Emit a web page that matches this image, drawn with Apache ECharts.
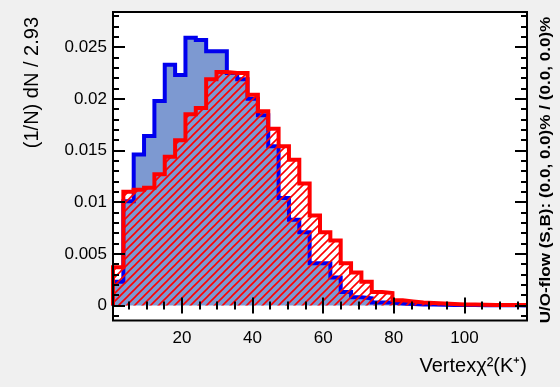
<!DOCTYPE html>
<html><head><meta charset="utf-8">
<script src="https://cdn.jsdelivr.net/npm/echarts@6/dist/echarts.min.js"></script>
<style>html,body{margin:0;padding:0;background:#f0f0f0}#c{width:560px;height:387px}</style>
</head><body><div id="c"></div>
<script>
// ---- data ----
const xMin = 0.5;
const binWidth = 2.93;
const signal = [0.0023, 0.0101, 0.0146, 0.0164, 0.0198, 0.0233, 0.0223, 0.0259, 0.0257, 0.0246,
  0.0246, 0.0225, 0.0219, 0.0200, 0.0184, 0.0154, 0.0104, 0.0083, 0.0071, 0.0041,
  0.0041, 0.0027, 0.0013, 0.0008, 0.0007, 0.0003, 0.0003, 0.0002, 0.00015, 0.0001,
  0.0001, 0.00008, 0.00006, 0.00005, 0.00004, 0.00003, 0.00003, 0.00002, 0.00002, 0.00001];
const background = [0.0037, 0.0110, 0.0112, 0.0114, 0.0127, 0.0144, 0.0160, 0.0185, 0.0191, 0.0219,
  0.0226, 0.0225, 0.0225, 0.0204, 0.0188, 0.0171, 0.0154, 0.0141, 0.0118, 0.0087,
  0.0071, 0.0063, 0.0041, 0.0032, 0.0023, 0.0013, 0.0012, 0.0005, 0.0004, 0.0003,
  0.00025, 0.0002, 0.00015, 0.0001, 0.0001, 0.00008, 0.00006, 0.00005, 0.00004, 0.00004];
const xMajorTicks = [20, 40, 60, 80, 100];
const xMinorTicks = [5, 10, 15, 25, 30, 35, 45, 50, 55, 65, 70, 75, 85, 90, 95, 105, 110, 115];
const yMajorTicks = [0, 0.005, 0.01, 0.015, 0.02, 0.025];
const yTickLabels = ['0', '0.005', '0.01', '0.015', '0.02', '0.025'];
const yMinorTicks = [-0.001, 0.001, 0.002, 0.003, 0.004, 0.006, 0.007, 0.008, 0.009, 0.011, 0.012, 0.013, 0.014,
  0.016, 0.017, 0.018, 0.019, 0.021, 0.022, 0.023, 0.024, 0.026, 0.027, 0.028];
const yMin = -0.00145, yMax = 0.0284;
const xTitle = 'Vertexχ²(K⁺)';
const yTitle = '(1/N) dN / 2.93';
const sideText = 'U/O-flow (S,B): (0.0, 0.0)% / (0.0, 0.0)%';

// ---- build ----
const xMax = xMin + signal.length * binWidth;
function steps(vals) {
  const pts = [[xMin, 0]];
  vals.forEach((v, i) => {
    const a = xMin + i * binWidth;
    pts.push([a, v], [a + binWidth, v]);
  });
  pts.push([xMin + vals.length * binWidth, 0]);
  return pts;
}
const hatch = document.createElement('canvas');
hatch.width = 8; hatch.height = 8;
const hc = hatch.getContext('2d');
hc.strokeStyle = '#ff0000'; hc.lineWidth = 1.6;
hc.beginPath();
hc.moveTo(0, 8); hc.lineTo(8, 0);
hc.moveTo(-1, 1); hc.lineTo(1, -1);
hc.moveTo(7, 9); hc.lineTo(9, 7);
hc.stroke();

const G = {left: 113, top: 12, right: 33, bottom: 66.5};
const FONT = 'Liberation Sans, Arial, sans-serif';

function xAx(pos, vals, len, labels) {
  return {
    type: 'value', min: xMin, max: xMax, position: pos, z: 10,
    axisLine: {show: false}, splitLine: {show: false},
    axisTick: {show: true, inside: true, length: len, customValues: vals, lineStyle: {color: '#000', width: 2}},
    axisLabel: labels ? {customValues: vals, color: '#000', fontSize: 17, fontFamily: FONT, margin: 9} : {show: false}
  };
}
function yAx(pos, vals, len, labels) {
  return {
    type: 'value', min: yMin, max: yMax, position: pos, z: 10,
    axisLine: {show: false}, splitLine: {show: false},
    axisTick: {show: true, inside: true, length: len, customValues: vals, lineStyle: {color: '#000', width: 2}},
    axisLabel: labels ? {
      customValues: vals, color: '#000', fontSize: 17, fontFamily: FONT, margin: 6,
      formatter: v => {
        let best = 0;
        yMajorTicks.forEach((t, i) => { if (Math.abs(t - v) < Math.abs(yMajorTicks[best] - v)) best = i; });
        return yTickLabels[best];
      }
    } : {show: false}
  };
}

const chart = echarts.init(document.getElementById('c'), null, {renderer: 'canvas'});
chart.setOption({
  animation: false,
  backgroundColor: '#f0f0f0',
  grid: Object.assign({show: true, backgroundColor: '#ffffff', borderWidth: 0}, G),
  xAxis: [
    xAx('bottom', xMajorTicks, 8, true),
    xAx('bottom', xMinorTicks, 4, false),
    xAx('top', xMajorTicks, 8, false),
    xAx('top', xMinorTicks, 4, false)
  ],
  yAxis: [
    yAx('left', yMajorTicks, 12, true),
    yAx('left', yMinorTicks, 6, false),
    yAx('right', yMajorTicks, 12, false),
    yAx('right', yMinorTicks, 6, false)
  ],
  series: [
    {type: 'line', xAxisIndex: 0, yAxisIndex: 0, data: steps(signal), symbol: 'none', z: 2,
     lineStyle: {color: '#0000ee', width: 4, join: 'miter'}, areaStyle: {color: '#7d99d1', opacity: 1}},
    {type: 'line', xAxisIndex: 0, yAxisIndex: 0, data: steps(background), symbol: 'none', z: 3,
     lineStyle: {color: '#ff0000', width: 4, join: 'miter'}, areaStyle: {color: {image: hatch, repeat: 'repeat'}, opacity: 1}}
  ],
  graphic: [
    {type: 'rect', z: 100, shape: {x: 113, y: 12, width: 414, height: 308.5},
     style: {fill: 'none', stroke: '#000', lineWidth: 2}},
    {type: 'text', z: 100, x: 32, y: 17, rotation: Math.PI / 2,
     style: {text: yTitle, font: '20px ' + FONT, fill: '#000', align: 'right', verticalAlign: 'middle'}},
    {type: 'text', z: 100, x: 527, y: 366,
     style: {text: xTitle, font: '20px ' + FONT, fill: '#000', align: 'right', verticalAlign: 'middle'}},
    {type: 'text', z: 100, x: 546, y: 170, rotation: Math.PI / 2, scaleX: 1.22,
     style: {text: sideText, font: 'bold 14px ' + FONT, fill: '#000', align: 'center', verticalAlign: 'middle'}}
  ]
});
</script>
</body></html>
